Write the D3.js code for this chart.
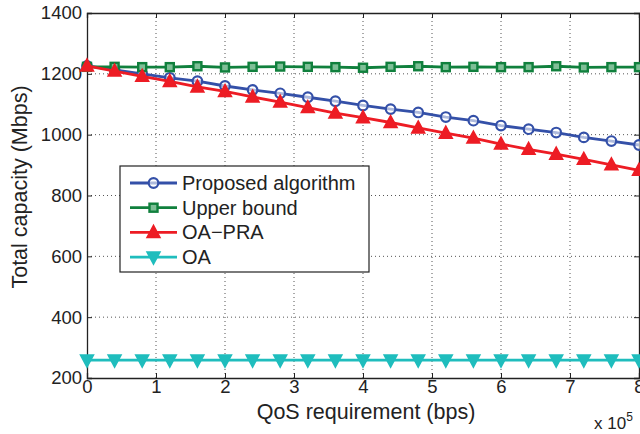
<!DOCTYPE html>
<html>
<head>
<meta charset="utf-8">
<script src="https://cdn.jsdelivr.net/npm/d3@7"></script>
<style>
  body { margin: 0; background: #fff; }
  svg text { font-family: "Liberation Sans", Arial, sans-serif; fill: #222; }
</style>
</head>
<body>
<div id="chart"></div>
<script>
// QoS requirement (x 10^5 bps)
var qos = [0, 0.4, 0.8, 1.2, 1.6, 2.0, 2.4, 2.8, 3.2, 3.6, 4.0, 4.4, 4.8, 5.2, 5.6, 6.0, 6.4, 6.8, 7.2, 7.6, 8.0]

// total capacity (Mbps)
var proposed = [1226, 1213, 1200, 1187, 1176, 1160, 1147, 1136, 1123, 1110, 1096, 1084, 1073, 1058, 1046, 1030, 1018, 1007, 991, 979, 966]
var upperBound = [1223, 1223, 1222, 1222, 1225, 1221, 1223, 1224, 1223, 1222, 1220, 1223, 1225, 1222, 1223, 1222, 1222, 1225, 1221, 1222, 1222]
var oaPra = [1226, 1209, 1192, 1175, 1157, 1142, 1124, 1107, 1089, 1071, 1056, 1040, 1022, 1005, 989, 969, 952, 936, 919, 901, 883]
var oa = [259, 259, 259, 259, 259, 259, 259, 259, 259, 259, 259, 259, 259, 259, 259, 259, 259, 259, 259, 259, 259]

var xTicks = [0, 1, 2, 3, 4, 5, 6, 7, 8]
var yTicks = [200, 400, 600, 800, 1000, 1200, 1400]

var series = [
  {name: 'Proposed algorithm', values: proposed, color: '#3450a8', marker: 'circle'},
  {name: 'Upper bound', values: upperBound, color: '#10803d', marker: 'square'},
  {name: 'OA\u2212PRA', values: oaPra, color: '#ed1c24', marker: 'triangle'},
  {name: 'OA', values: oa, color: '#1fbdbd', marker: 'triangleDown'}
]

var W = 640, H = 434
var margin = {top: 13, left: 87, right: 1, bottom: 56}
var w = W - margin.left - margin.right
var h = H - margin.top - margin.bottom

var svg = d3.select('#chart').append('svg')
  .attr('width', W).attr('height', H)

var g = svg.append('g').attr('transform', `translate(${margin.left},${margin.top})`)

var x = d3.scaleLinear().domain([0, 8]).range([0, w])
var y = d3.scaleLinear().domain([200, 1400]).range([h, 0])

// grid
g.append('g').selectAll('line').data(xTicks.slice(1, -1)).join('line')
  .attr('x1', d => x(d)).attr('x2', d => x(d))
  .attr('y1', 0).attr('y2', h)
  .attr('stroke', '#555').attr('stroke-width', 1).attr('stroke-dasharray', '1,3')
g.append('g').selectAll('line').data(yTicks.slice(1, -1)).join('line')
  .attr('y1', d => y(d)).attr('y2', d => y(d))
  .attr('x1', 0).attr('x2', w)
  .attr('stroke', '#555').attr('stroke-width', 1).attr('stroke-dasharray', '1,3')

// axes (matlab style, ticks inward)
var xAxis = g.append('g').attr('transform', `translate(0,${h})`)
  .call(d3.axisBottom(x).tickValues(xTicks).tickSize(-5).tickPadding(2).tickFormat(d3.format('d')))
var yAxis = g.append('g')
  .call(d3.axisLeft(y).tickValues(yTicks).tickSize(-5).tickPadding(5).tickFormat(d3.format('d')))
g.append('g').attr('transform', 'translate(0,0)')
  .call(d3.axisTop(x).tickValues(xTicks).tickSize(-5).tickFormat(''))
g.append('g').attr('transform', `translate(${w},0)`)
  .call(d3.axisRight(y).tickValues(yTicks).tickSize(-5).tickFormat(''))

g.selectAll('.domain').attr('stroke', '#222').attr('stroke-width', 1.3)
g.selectAll('.tick line').attr('stroke', '#222')
xAxis.selectAll('text').attr('font-size', 18.5).attr('fill', '#222')
yAxis.selectAll('text').attr('font-size', 18.5).attr('fill', '#222')

var line = d3.line()
  .x((d, i) => x(qos[i]))
  .y(d => y(d))

function drawMarker(sel, type, color){
  if (type == 'circle'){
    sel.append('circle').attr('r', 4.8)
      .attr('fill', '#fff').attr('fill-opacity', 0.6)
      .attr('stroke', color).attr('stroke-width', 2.2)
  } else if (type == 'square'){
    sel.append('rect').attr('x', -4).attr('y', -4).attr('width', 8).attr('height', 8)
      .attr('fill', '#7fbf97')
      .attr('stroke', color).attr('stroke-width', 2.4)
  } else if (type == 'triangle'){
    sel.append('path').attr('d', 'M0,-7L6.5,5L-6.5,5Z')
      .attr('fill', color).attr('stroke', color).attr('stroke-width', 1.5)
  } else {
    sel.append('path').attr('d', 'M0,7L6.5,-5L-6.5,-5Z')
      .attr('fill', color).attr('stroke', color).attr('stroke-width', 1.5)
  }
}

series.forEach(s => {
  g.append('path').datum(s.values)
    .attr('d', line)
    .attr('fill', 'none')
    .attr('stroke', s.color)
    .attr('stroke-width', 2.8)

  g.append('g').selectAll('g').data(s.values).join('g')
    .attr('transform', (d, i) => `translate(${x(qos[i])},${y(d)})`)
    .each(function(){ drawMarker(d3.select(this), s.marker, s.color) })
})

// legend
var lg = svg.append('g').attr('transform', 'translate(120,166)')
lg.append('rect').attr('width', 249).attr('height', 106)
  .attr('fill', '#fff').attr('stroke', '#222').attr('stroke-width', 1.2)
series.forEach((s, i) => {
  var ly = 17 + i * 24.7
  lg.append('line').attr('x1', 10).attr('x2', 57).attr('y1', ly).attr('y2', ly)
    .attr('stroke', s.color).attr('stroke-width', 2.8)
  var m = lg.append('g').attr('transform', `translate(33.5,${ly})`)
  drawMarker(m, s.marker, s.color)
  lg.append('text').attr('x', 62).attr('y', ly).attr('dy', '0.35em')
    .attr('font-size', 20).text(s.name)
})

// axis titles
svg.append('text')
  .attr('x', 366).attr('y', 419)
  .attr('text-anchor', 'middle').attr('font-size', 21.5)
  .text('QoS requirement (bps)')

svg.append('text')
  .attr('transform', 'translate(27,187) rotate(-90)')
  .attr('text-anchor', 'middle').attr('font-size', 21.5)
  .text('Total capacity (Mbps)')

var ex = svg.append('text').attr('x', 594).attr('y', 429).attr('font-size', 17)
ex.append('tspan').text('x 10')
ex.append('tspan').attr('font-size', 12).attr('dy', -8).text('5')
</script>
</body>
</html>
